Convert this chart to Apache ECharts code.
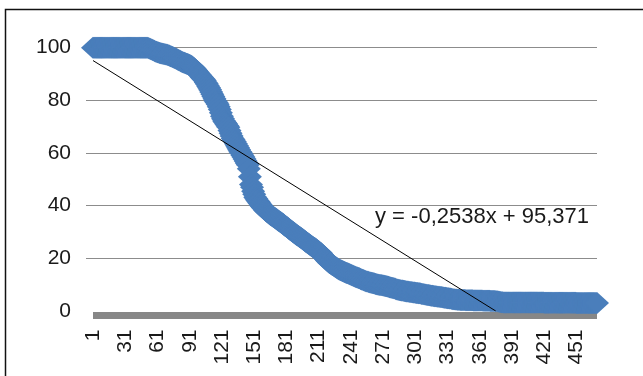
<!DOCTYPE html>
<html>
<head>
<meta charset="utf-8">
<script src="https://cdn.jsdelivr.net/npm/echarts@6/dist/echarts.min.js"></script>
<style>
html,body{margin:0;padding:0;background:#fff;}
#chart{width:643px;height:376px;}
</style>
</head>
<body>
<div id="chart"></div>
<script>
// Series values (one per category, category = 1..N)
const values = [
100,100,100,100,100,100,100,100,100,100,
100,100,100,100,100,100,100,100,100,100,
100,100,100,100,100,100,100,100,100,100,
100,100,100,100,100,100,100,100,100,100,
100,100,100,100,100,100,100,100,100,100,
100,100,99.8,99.6,99.4,99.2,99.0,98.8,98.6,98.5,
98.3,98.2,98.0,97.9,97.8,97.7,97.6,97.5,97.4,97.3,
97.1,97.0,96.8,96.7,96.5,96.3,96.1,95.9,95.7,95.4,
95.2,95.0,94.8,94.6,94.4,94.3,94.1,93.9,93.8,93.6,
93.4,93.2,93.0,92.6,92.2,91.8,91.3,90.8,90.3,89.8,
89.4,88.9,88.4,88.0,87.5,86.8,86.2,85.5,84.8,84.0,
83.2,82.3,81.5,80.6,79.8,79.2,78.5,77.6,76.5,75.3,
74.0,73.0,72.2,71.6,71.0,70.4,69.8,68.6,67.5,66.5,
65.5,64.9,64.3,63.5,62.8,62.0,61.2,60.5,59.9,59.2,
58.5,57.7,57.0,56.2,55.5,54.0,51.0,48.0,47.0,45.5,
44.3,43.2,42.6,42.0,41.5,40.9,40.4,39.8,39.3,38.9,
38.4,38.0,37.6,37.3,36.9,36.6,36.3,36.0,35.7,35.4,
35.1,34.8,34.5,34.2,33.9,33.6,33.3,33.0,32.6,32.3,
32.0,31.7,31.3,31.0,30.7,30.4,30.0,29.7,29.4,29.1,
28.8,28.5,28.2,27.9,27.6,27.3,27.0,26.7,26.3,26.0,
25.7,25.4,25.1,24.8,24.5,24.2,23.9,23.7,23.4,23.0,
22.7,22.3,22.0,21.5,21.0,20.5,20.0,19.6,19.1,18.7,
18.2,18.0,17.7,17.5,17.2,16.9,16.6,16.3,16.0,15.8,
15.6,15.4,15.2,15.0,14.8,14.6,14.4,14.3,14.1,14.0,
13.8,13.6,13.4,13.2,13.0,12.8,12.7,12.5,12.4,12.2,
12.0,11.9,11.7,11.5,11.3,11.2,11.1,10.9,10.8,10.7,
10.6,10.5,10.4,10.3,10.2,10.1,10.0,9.9,9.9,9.8,
9.7,9.6,9.5,9.4,9.3,9.2,9.0,8.9,8.8,8.7,
8.6,8.5,8.3,8.2,8.1,8.0,7.9,7.8,7.8,7.7,
7.6,7.5,7.4,7.4,7.3,7.2,7.2,7.1,7.0,7.0,
6.9,6.8,6.8,6.7,6.7,6.6,6.5,6.5,6.4,6.3,
6.2,6.1,6.1,6.0,5.9,5.8,5.8,5.7,5.6,5.6,
5.5,5.4,5.4,5.3,5.3,5.2,5.1,5.0,5.0,4.9,
4.8,4.8,4.7,4.7,4.6,4.5,4.5,4.4,4.4,4.3,
4.3,4.3,4.2,4.2,4.2,4.2,4.2,4.1,4.1,4.1,
4.1,4.1,4.1,4.1,4.0,4.0,4.0,4.0,4.0,4.0,
4.0,4.0,4.0,3.9,3.9,3.9,3.9,3.9,3.9,3.9,
3.8,3.8,3.8,3.8,3.8,3.7,3.7,3.6,3.5,3.4,
3.3,3.3,3.2,3.2,3.2,3.2,3.2,3.2,3.2,3.2,
3.2,3.2,3.2,3.2,3.2,3.2,3.2,3.2,3.2,3.2,
3.2,3.2,3.2,3.2,3.2,3.2,3.2,3.2,3.2,3.2,
3.2,3.2,3.2,3.2,3.2,3.2,3.2,3.2,3.2,3.2,
3.1,3.1,3.1,3.1,3.1,3.1,3.1,3.1,3.1,3.1,
3.1,3.1,3.1,3.1,3.1,3.1,3.1,3.1,3.1,3.1,
3.1,3.1,3.1,3.1,3.1,3.1,3.1,3.1,3.1,3.1,
3.0,3.0,3.0,3.0,3.0,3.0,3.0,3.0,3.0,3.0,
3.0,3.0,3.0,3.0,3.0,3.0,3.0,3.0,3.0,3.0
];
// Category labels 1..N
const categories = values.map((_, i) => String(i + 1));
// Y axis ticks
const yTicks = [0, 20, 40, 60, 80, 100];
// Linear trendline (from the equation shown on the chart)
const trendSlope = -0.2538;
const trendIntercept = 95.371;
const trendLabel = 'y = -0,2538x + 95,371';

const xStart = 1;
const xZero = -trendIntercept / trendSlope;
const trendData = [[xStart, trendIntercept + trendSlope * xStart], [xZero, 0]];

const FONT = "'Liberation Sans', Arial, sans-serif";
const chart = echarts.init(document.getElementById('chart'), null, {renderer: 'canvas'});
chart.setOption({
  animation: false,
  backgroundColor: '#ffffff',
  grid: {left: 93, right: 46, top: 47.7, bottom: 65, containLabel: false},
  xAxis: [{
    type: 'category',
    data: categories,
    boundaryGap: false,
    offset: 4.5,
    axisLine: {show: true, onZero: false, lineStyle: {color: '#878787', width: 7, cap: 'butt'}},
    axisTick: {show: false},
    axisLabel: {interval: 29, rotate: 90, margin: 14, fontSize: 21, fontFamily: FONT, color: '#1a1a1a'},
    splitLine: {show: false}
  }, {
    type: 'value',
    min: 1,
    max: values.length,
    show: false
  }],
  yAxis: {
    type: 'value',
    min: yTicks[0],
    max: yTicks[yTicks.length - 1],
    interval: 20,
    axisLine: {show: false},
    axisTick: {show: true, length: 7, inside: false, lineStyle: {color: '#8c8c8c', width: 1}, customValues: yTicks.slice(1)},
    axisLabel: {margin: 22, fontSize: 21, fontFamily: FONT, color: '#1a1a1a'},
    splitLine: {show: true, lineStyle: {color: '#8c8c8c', width: 1}}
  },
  series: [{
    type: 'scatter',
    xAxisIndex: 0,
    data: values,
    symbol: 'diamond',
    symbolSize: [24, 22],
    itemStyle: {color: '#4a7ebb', opacity: 1},
    z: 2,
    silent: true
  }, {
    type: 'line',
    xAxisIndex: 1,
    data: trendData,
    showSymbol: false,
    lineStyle: {color: '#000000', width: 1},
    z: 5,
    silent: true
  }],
  graphic: [{
    type: 'text',
    left: 375,
    top: 206,
    z: 10,
    style: {text: trendLabel, fontSize: 22, fontFamily: FONT, fill: '#1a1a1a'}
  }, {
    type: 'rect',
    z: 20,
    shape: {x: 5.5, y: 9.5, width: 800, height: 600},
    style: {fill: 'none', stroke: '#111111', lineWidth: 1.5}
  }]
});
</script>
</body>
</html>
